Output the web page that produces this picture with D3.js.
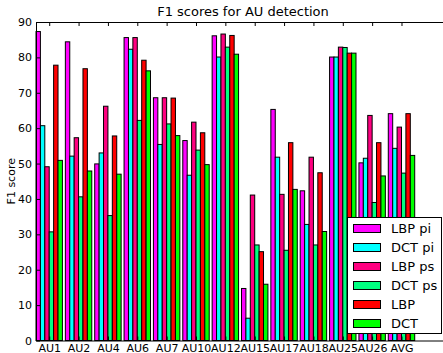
<!DOCTYPE html>
<html>
<head>
<meta charset="utf-8">
<script src="https://cdn.jsdelivr.net/npm/d3@7"></script>
<style>
  body { margin: 0; background: #fff; }
  svg { display: block; font-family: "DejaVu Sans", sans-serif; }
</style>
</head>
<body>
<svg id="chart" width="443" height="353"></svg>
<script>
const categories = ['AU1', 'AU2', 'AU4', 'AU6', 'AU7', 'AU10', 'AU12', 'AU15', 'AU17', 'AU18', 'AU25', 'AU26', 'AVG']
const seriesNames = ['LBP pi', 'DCT pi', 'LBP ps', 'DCT ps', 'LBP', 'DCT']
const seriesColors = ['#ff00ff', '#00ffff', '#ff0080', '#00ff80', '#ff0000', '#00ff00']

const lbpPi = [87.3, 84.4, 49.9, 85.6, 68.6, 56.5, 86.1, 14.7, 65.3, 42.3, 80.1, 50.2, 64.1]
const dctPi = [60.7, 52.1, 53.0, 82.3, 55.4, 46.7, 80.1, 6.3, 51.8, 32.8, 80.1, 51.5, 54.3]
const lbpPs = [49.1, 57.3, 66.2, 85.6, 68.6, 61.7, 86.6, 41.1, 41.3, 51.8, 82.9, 63.6, 60.3]
const dctPs = [30.7, 40.6, 35.3, 62.2, 61.2, 53.8, 82.9, 27.0, 25.5, 27.0, 82.8, 39.0, 47.3]
const lbp = [77.8, 76.8, 57.8, 79.2, 68.5, 58.7, 86.2, 25.1, 55.9, 47.4, 81.2, 55.9, 64.1]
const dct = [50.9, 47.9, 47.0, 76.2, 57.9, 49.7, 80.9, 15.9, 42.7, 30.8, 81.2, 46.5, 52.3]

const yTicks = [0, 10, 20, 30, 40, 50, 60, 70, 80, 90]

const series = [lbpPi, dctPi, lbpPs, dctPs, lbp, dct]
const barWidth = 0.15

const margin = { top: 22, left: 36, bottom: 340.5, right: 447 }
const svg = d3.select('#chart')

const xScale = d3.scaleLinear().domain([0, 14]).range([margin.left, margin.right])
const yScale = d3.scaleLinear().domain([0, 90]).range([margin.bottom, margin.top])

// bars
series.forEach((values, s) => {
  svg.append('g')
    .selectAll('rect')
    .data(values)
    .join('rect')
    .attr('x', (d, i) => xScale(i + s * barWidth))
    .attr('y', (d) => yScale(d))
    .attr('width', xScale(barWidth) - xScale(0))
    .attr('height', (d) => yScale(0) - yScale(d))
    .attr('fill', seriesColors[s])
    .attr('stroke', '#000')
    .attr('stroke-width', 1)
})

// axes, ticks pointing inwards like old matplotlib
const tickPos = categories.map((c, i) => i + 3 * barWidth)

const xAxis = d3.axisBottom(xScale)
  .tickValues(tickPos)
  .tickFormat((d, i) => categories[i])
  .tickSizeInner(-4)
  .tickSizeOuter(0)
  .tickPadding(4)
const xTop = d3.axisTop(xScale)
  .tickValues(tickPos)
  .tickFormat('')
  .tickSizeInner(-4)
  .tickSizeOuter(0)
const yAxis = d3.axisLeft(yScale)
  .tickValues(yTicks)
  .tickSizeInner(-4)
  .tickSizeOuter(0)
  .tickPadding(4)

const gx = svg.append('g').attr('transform', `translate(0,${margin.bottom})`).call(xAxis)
const gt = svg.append('g').attr('transform', `translate(0,${margin.top})`).call(xTop)
const gy = svg.append('g').attr('transform', `translate(${margin.left},0)`).call(yAxis)

;[gx, gt, gy].forEach((g) => {
  g.selectAll('path, line').attr('stroke', '#000')
  g.selectAll('text').attr('fill', '#000').attr('font-size', 11).attr('font-family', '"DejaVu Sans", sans-serif')
})

// title and axis label
svg.append('text')
  .attr('x', 243)
  .attr('y', 16)
  .attr('text-anchor', 'middle')
  .attr('font-size', 13)
  .text('F1 scores for AU detection')

svg.append('text')
  .attr('transform', `translate(15,${(margin.top + margin.bottom) / 2}) rotate(-90)`)
  .attr('text-anchor', 'middle')
  .attr('font-size', 11)
  .text('F1 score')

// legend
const legend = svg.append('g')
legend.append('rect')
  .attr('x', 347.5)
  .attr('y', 217.5)
  .attr('width', 94)
  .attr('height', 116)
  .attr('fill', '#fff')
  .attr('stroke', '#000')

seriesNames.forEach((name, i) => {
  const cy = 228.5 + i * 19
  legend.append('rect')
    .attr('x', 353.5)
    .attr('y', cy - 4)
    .attr('width', 27)
    .attr('height', 8)
    .attr('fill', seriesColors[i])
    .attr('stroke', '#000')
  legend.append('text')
    .attr('x', 391)
    .attr('y', cy + 4.5)
    .attr('font-size', 13)
    .text(name)
})
</script>
</body>
</html>
